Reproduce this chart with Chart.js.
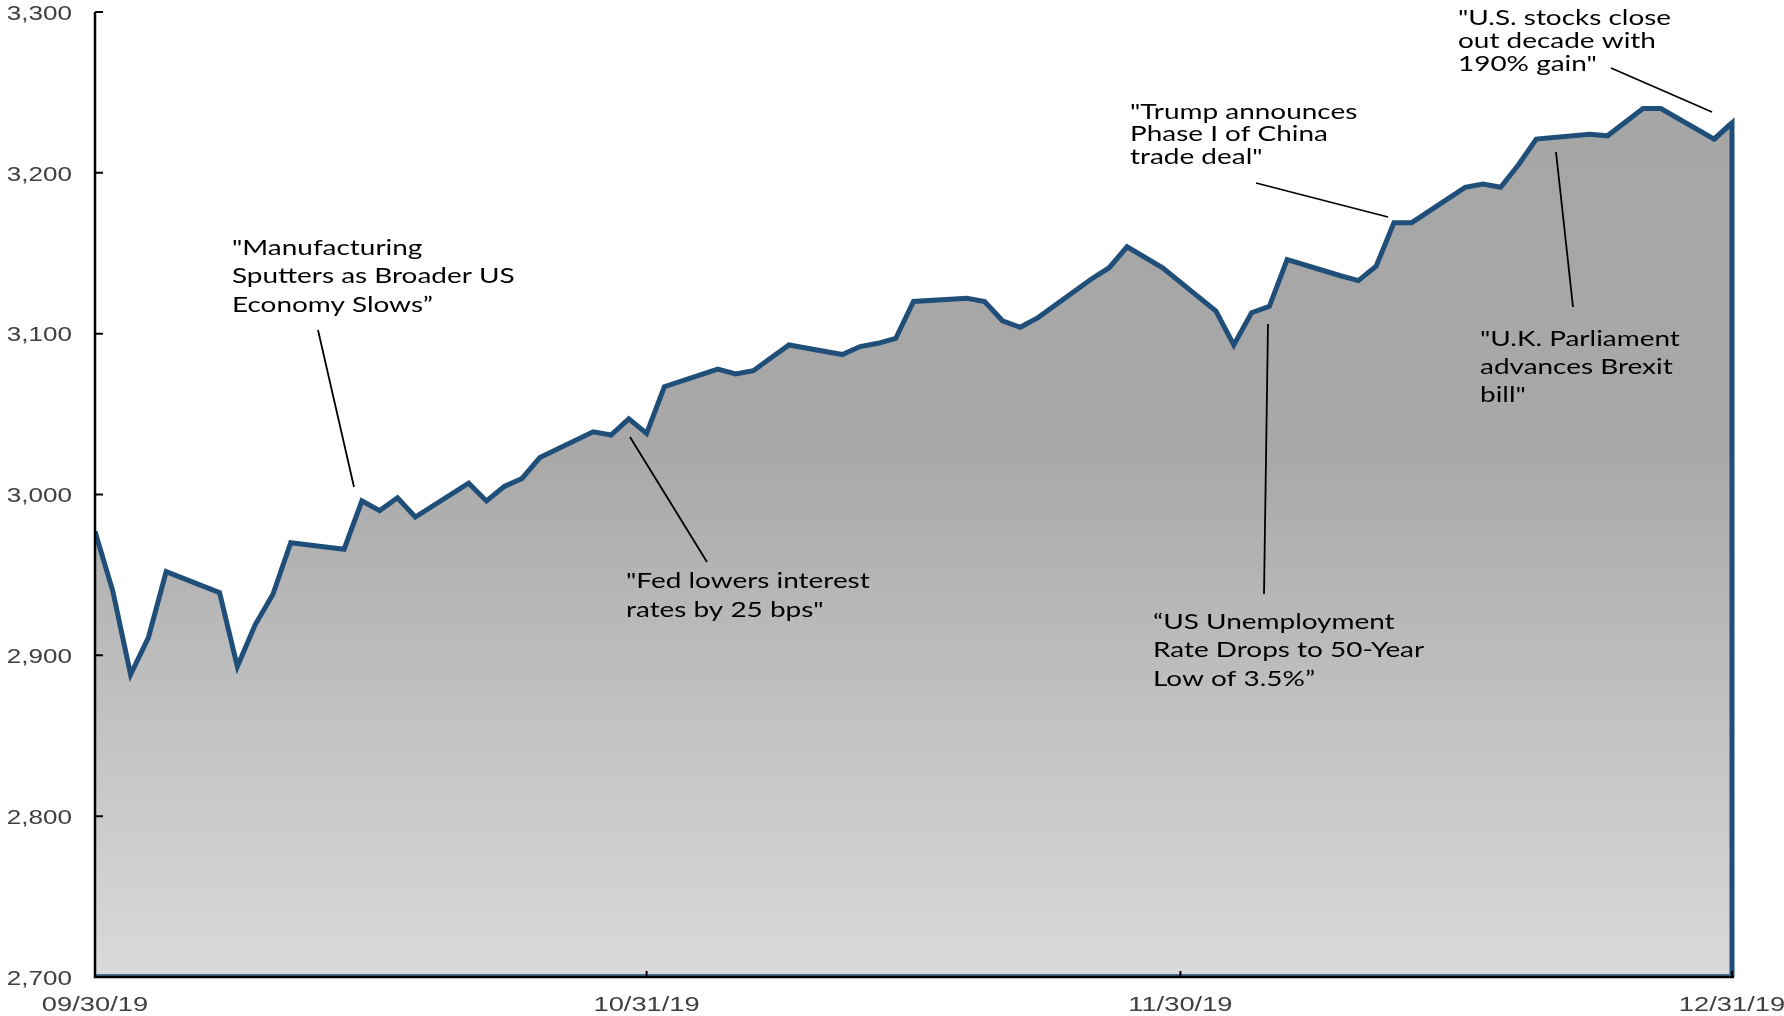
<!DOCTYPE html>
<html>
<head>
<meta charset="utf-8">
<script src="https://cdn.jsdelivr.net/npm/chart.js@4.4.0/dist/chart.umd.min.js"></script>
<style>
  html, body { margin: 0; padding: 0; background: #fff; }
  #wrap { width: 1784px; height: 1016px; }
</style>
</head>
<body>
<div id="wrap"><canvas id="spx"></canvas></div>
<script>
// S&P 500 daily close, Q4 2019
const startDate = '2019-09-30';
const dates = [
  '2019-09-30','2019-10-01','2019-10-02','2019-10-03','2019-10-04','2019-10-07','2019-10-08','2019-10-09',
  '2019-10-10','2019-10-11','2019-10-14','2019-10-15','2019-10-16','2019-10-17','2019-10-18','2019-10-21',
  '2019-10-22','2019-10-23','2019-10-24','2019-10-25','2019-10-28','2019-10-29','2019-10-30','2019-10-31',
  '2019-11-01','2019-11-04','2019-11-05','2019-11-06','2019-11-07','2019-11-08','2019-11-11','2019-11-12',
  '2019-11-13','2019-11-14','2019-11-15','2019-11-18','2019-11-19','2019-11-20','2019-11-21','2019-11-22',
  '2019-11-25','2019-11-26','2019-11-27','2019-11-29','2019-12-02','2019-12-03','2019-12-04','2019-12-05',
  '2019-12-06','2019-12-09','2019-12-10','2019-12-11','2019-12-12','2019-12-13','2019-12-16','2019-12-17',
  '2019-12-18','2019-12-19','2019-12-20','2019-12-23','2019-12-24','2019-12-26','2019-12-27','2019-12-30',
  '2019-12-31'
];
const closes = [
  2977, 2940, 2888, 2911, 2952, 2939, 2893, 2919,
  2938, 2970, 2966, 2996, 2990, 2998, 2986, 3007,
  2996, 3005, 3010, 3023, 3039, 3037, 3047, 3038,
  3067, 3078, 3075, 3077, 3085, 3093, 3087, 3092,
  3094, 3097, 3120, 3122, 3120, 3108, 3104, 3110,
  3134, 3141, 3154, 3141, 3114, 3093, 3113, 3117,
  3146, 3136, 3133, 3142, 3169, 3169, 3191, 3193,
  3191, 3205, 3221, 3224, 3223, 3240, 3240, 3221,
  3231
];
const tickDays = [0, 31, 61, 92];
const tickLabels = ['09/30/19', '10/31/19', '11/30/19', '12/31/19'];
const yTicks = [2700, 2800, 2900, 3000, 3100, 3200, 3300];

// callouts: text lines, first-line centre (px), line height, leader line
const notes = [
  { lines: ['"Manufacturing', 'Sputters as Broader US', 'Economy Slows\u201d'], x: 232, y: 248, lh: 28.5, from: [318, 330], to: [354, 487] },
  { lines: ['"Fed lowers interest', 'rates by 25 bps"'], x: 626, y: 581, lh: 29, from: [630, 437], to: [707, 562] },
  { lines: ['"Trump announces', 'Phase I of China', 'trade deal"'], x: 1130, y: 112, lh: 22.7, from: [1256, 183], to: [1388, 217] },
  { lines: ['\u201cUS Unemployment', 'Rate Drops to 50-Year', 'Low of 3.5%\u201d'], x: 1153, y: 622, lh: 28.5, from: [1268, 324], to: [1264, 594] },
  { lines: ['"U.K. Parliament', 'advances Brexit', 'bill"'], x: 1480, y: 339, lh: 28, from: [1556, 152], to: [1573, 307] },
  { lines: ['"U.S. stocks close', 'out decade with', '190% gain"'], x: 1458, y: 18, lh: 23, from: [1611, 68], to: [1712, 112] }
];

const dayOf = d => (Date.parse(d) - Date.parse(startDate)) / 864e5;
const points = dates.map((d, i) => ({ x: dayOf(d), y: closes[i] }));

function areaFill(context) {
  const chart = context.chart;
  const a = chart.chartArea;
  if (!a) return '#b0b0b0';
  const g = chart.ctx.createLinearGradient(0, a.top, 0, a.bottom);
  g.addColorStop(0, '#a5a5a5');
  g.addColorStop(0.45, '#a8a8a8');
  g.addColorStop(1, '#dadada');
  return g;
}

function stretchedText(ctx, txt, x, y, sx, align) {
  ctx.save();
  ctx.translate(x, y);
  ctx.scale(sx, 1);
  ctx.textAlign = align;
  ctx.fillText(txt, 0, 0);
  ctx.restore();
}

const axesPlugin = {
  id: 'axesPlugin',
  afterDatasetsDraw(chart) {
    const ctx = chart.ctx, a = chart.chartArea;
    const xs = chart.scales.x, ys = chart.scales.y;
    const n = points.length;
    const px1 = xs.getPixelForValue(points[n - 2].x), py1 = ys.getPixelForValue(points[n - 2].y);
    const px2 = xs.getPixelForValue(points[n - 1].x), py2 = ys.getPixelForValue(points[n - 1].y);
    ctx.save();
    // closing edge of the area
    ctx.strokeStyle = '#1f4e79';
    ctx.lineJoin = 'miter';
    ctx.lineWidth = 5;
    ctx.beginPath();
    ctx.moveTo(px1, py1);
    ctx.lineTo(px2, py2);
    ctx.lineTo(px2, a.bottom);
    ctx.stroke();
    ctx.lineWidth = 2;
    ctx.strokeStyle = '#4a6e96';
    ctx.beginPath();
    ctx.moveTo(a.left, a.bottom - 2);
    ctx.lineTo(px2, a.bottom - 2);
    ctx.stroke();

    // axis lines and inward ticks
    ctx.strokeStyle = '#000';
    ctx.lineWidth = 2.5;
    ctx.beginPath();
    ctx.moveTo(a.left, a.top);
    ctx.lineTo(a.left, a.bottom);
    ctx.lineTo(a.right + 2, a.bottom);
    ctx.stroke();
    ctx.lineWidth = 2;
    ctx.beginPath();
    yTicks.forEach(v => {
      const py = ys.getPixelForValue(v);
      ctx.moveTo(a.left, py);
      ctx.lineTo(a.left + 8, py);
    });
    tickDays.forEach(d => {
      const px = xs.getPixelForValue(d);
      ctx.moveTo(px, a.bottom);
      ctx.lineTo(px, a.bottom - 6);
    });
    ctx.stroke();

    // tick labels
    ctx.fillStyle = '#404040';
    ctx.font = '21px "Liberation Sans", Arial, sans-serif';
    ctx.textBaseline = 'middle';
    yTicks.forEach(v => {
      stretchedText(ctx, v.toLocaleString('en-US'), a.left - 23, ys.getPixelForValue(v) + 2, 1.24, 'right');
    });
    tickDays.forEach((d, i) => {
      stretchedText(ctx, tickLabels[i], xs.getPixelForValue(d), a.bottom + 28, 1.3, 'center');
    });
    ctx.restore();
  }
};

const notesPlugin = {
  id: 'notesPlugin',
  afterDraw(chart) {
    const ctx = chart.ctx;
    ctx.save();
    ctx.strokeStyle = '#000';
    ctx.lineWidth = 1.8;
    ctx.fillStyle = '#000';
    ctx.font = '21px Lato, "Open Sans", sans-serif';
    ctx.textBaseline = 'middle';
    notes.forEach(nt => {
      ctx.beginPath();
      ctx.moveTo(nt.from[0], nt.from[1]);
      ctx.lineTo(nt.to[0], nt.to[1]);
      ctx.stroke();
      nt.lines.forEach((ln, i) => stretchedText(ctx, ln, nt.x, nt.y + i * nt.lh, 1.33, 'left'));
    });
    ctx.restore();
  }
};

new Chart(document.getElementById('spx'), {
  type: 'line',
  data: {
    datasets: [{
      data: points,
      borderColor: '#1f4e79',
      borderWidth: 5,
      borderJoinStyle: 'miter',
      backgroundColor: areaFill,
      fill: 'start',
      tension: 0,
      pointRadius: 0
    }]
  },
  options: {
    responsive: true,
    maintainAspectRatio: false,
    animation: false,
    layout: { padding: { top: 12, right: 52, left: 0, bottom: 0 } },
    plugins: { legend: { display: false }, tooltip: { enabled: false } },
    scales: {
      x: {
        type: 'linear', min: 0, max: 92,
        grid: { display: false }, border: { display: false }, ticks: { display: false },
        afterFit: s => { s.height = 39; }
      },
      y: {
        min: 2700, max: 3300,
        grid: { display: false }, border: { display: false }, ticks: { display: false },
        afterFit: s => { s.width = 95; }
      }
    }
  },
  plugins: [axesPlugin, notesPlugin]
});
</script>
</body>
</html>
